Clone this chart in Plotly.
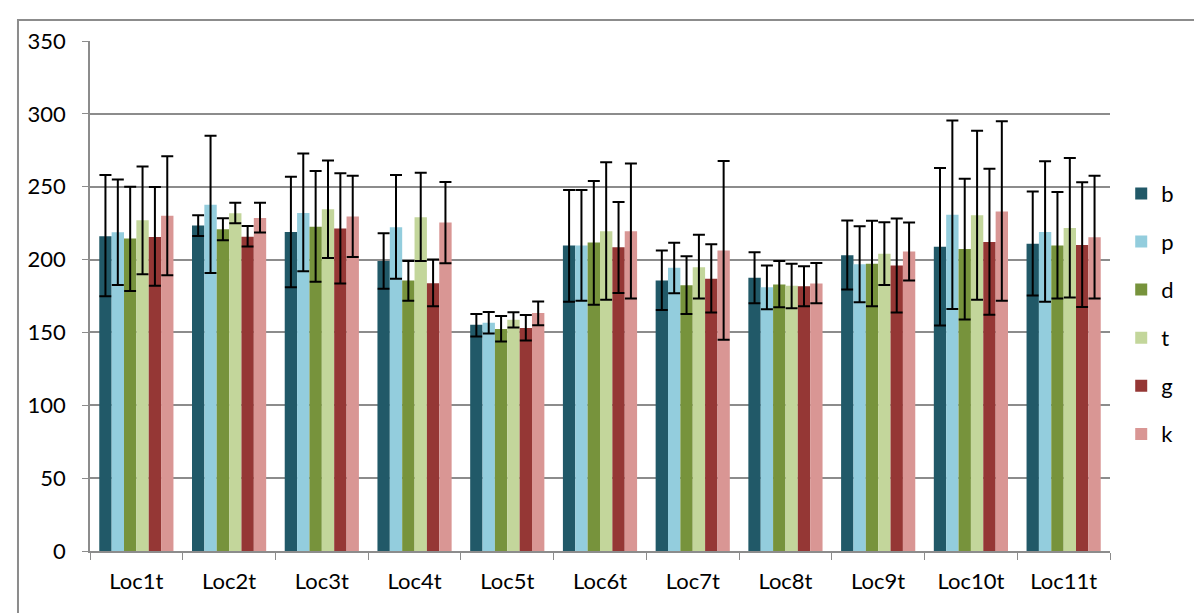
import plotly.graph_objects as go

categories = ["Loc1t", "Loc2t", "Loc3t", "Loc4t", "Loc5t", "Loc6t", "Loc7t", "Loc8t", "Loc9t", "Loc10t", "Loc11t"]
series_names = ["b", "p", "d", "t", "g", "k"]
colors = ["#215968", "#93CDDD", "#77933C", "#C3D69B", "#953735", "#D99694"]

b_vals = [216, 223.3, 219, 199, 155.3, 209.7, 185.6, 187.5, 203, 208.8, 210.9]
p_vals = [218.7, 237.6, 232, 222.2, 156.7, 209.7, 194.4, 181, 196.8, 230.8, 218.9]
d_vals = [214.4, 220.8, 222.6, 185.6, 152.3, 211.7, 182.4, 182.9, 197.2, 207.2, 209.7]
t_vals = [227, 231.8, 234.6, 229, 158.7, 219.4, 194.8, 182, 204, 230.5, 221.6]
g_vals = [215.5, 215.7, 221.3, 183.7, 153, 208.5, 186.8, 181.7, 196, 212, 210]
k_vals = [230, 228.6, 229.5, 225.4, 163.3, 219.4, 206.3, 183.6, 205.6, 233, 215.4]

b_hi = [258, 230.5, 256.9, 218, 162.6, 247.7, 206.3, 205, 226.8, 262.8, 246.8]
p_hi = [255, 285, 272.8, 258, 164, 247.7, 211.6, 196, 222.9, 295.5, 267.4]
d_hi = [250, 228.4, 260.8, 199, 161.2, 253.9, 202.2, 199, 226.6, 255.5, 246.3]
t_hi = [263.8, 239, 268, 259.5, 163.8, 266.8, 217, 197.1, 225.6, 288.4, 269.7]
g_hi = [249.8, 223, 259.2, 200.1, 162, 239.5, 210.5, 195.5, 228.2, 262.4, 253]
k_hi = [270.9, 239, 257.6, 253.2, 171.3, 265.9, 267.7, 197.6, 225.5, 294.9, 257.6]

b_lo = [174.8, 216.2, 181, 179.9, 147.2, 171, 165.4, 170, 179.4, 154.8, 175.4]
p_lo = [182.6, 190.7, 192, 186.8, 149.3, 171.7, 176.9, 165.9, 170.7, 166, 171]
d_lo = [178.5, 213.2, 184.7, 171.8, 143.8, 169, 162.6, 167.2, 168, 158.9, 173.3]
t_lo = [190, 225, 201, 199, 153.4, 172.5, 173.2, 166.6, 182.6, 172.4, 174]
g_lo = [182, 209, 183.6, 168, 144.5, 177, 163.6, 168, 163.6, 162.1, 167.4]
k_lo = [189.3, 218.5, 201.7, 197.4, 155, 173.2, 145, 170, 185.7, 171.7, 173.3]

y_ticks = [0, 50, 100, 150, 200, 250, 300, 350]

vals = [b_vals, p_vals, d_vals, t_vals, g_vals, k_vals]
his = [b_hi, p_hi, d_hi, t_hi, g_hi, k_hi]
los = [b_lo, p_lo, d_lo, t_lo, g_lo, k_lo]

FONT = "Lato, 'Open Sans', sans-serif"

fig = go.Figure()
for name, col, v, hi, lo in zip(series_names, colors, vals, his, los):
    fig.add_trace(go.Bar(
        x=categories, y=v, name=name, legendgroup=name,
        marker=dict(color=col, line=dict(width=0)),
        error_y=dict(type="data", symmetric=False,
                     array=[h - a for h, a in zip(hi, v)],
                     arrayminus=[a - l for l, a in zip(lo, v)],
                     color="black", thickness=2, width=6),
    ))

fig.update_layout(
    width=1194, height=605,
    margin=dict(l=82, r=92, t=33, b=62),
    paper_bgcolor="white", plot_bgcolor="white",
    barmode="group", bargap=0.2, bargroupgap=0,
    font=dict(family=FONT, size=22, color="black"),
    legend=dict(x=1.011, y=0.742, xanchor="left", yanchor="top",
                font=dict(size=22), tracegroupgap=16.5,
                itemwidth=30, bgcolor="rgba(0,0,0,0)"),
    showlegend=True,
)
fig.update_yaxes(range=[0, 350], tickvals=y_ticks, showgrid=True,
                 gridcolor="#8c8c8c", gridwidth=1.5,
                 showline=True, linecolor="#8c8c8c", linewidth=1.5,
                 ticks="outside", ticklen=6, tickcolor="#8c8c8c",
                 ticklabelstandoff=12,
                 zeroline=False, tickfont=dict(size=22))
fig.update_xaxes(showline=True, linecolor="#8c8c8c", linewidth=1.5,
                 ticks="outside", ticklen=7, tickcolor="#8c8c8c",
                 ticklabelstandoff=10,
                 tickson="boundaries", tickfont=dict(size=22))

fig.add_shape(type="rect", xref="paper", yref="paper",
              x0=-0.0706, y0=-0.3, x1=1.3, y1=1.0412,
              line=dict(color="#8c8c8c", width=2), layer="below")

fig.write_html("out.html")
